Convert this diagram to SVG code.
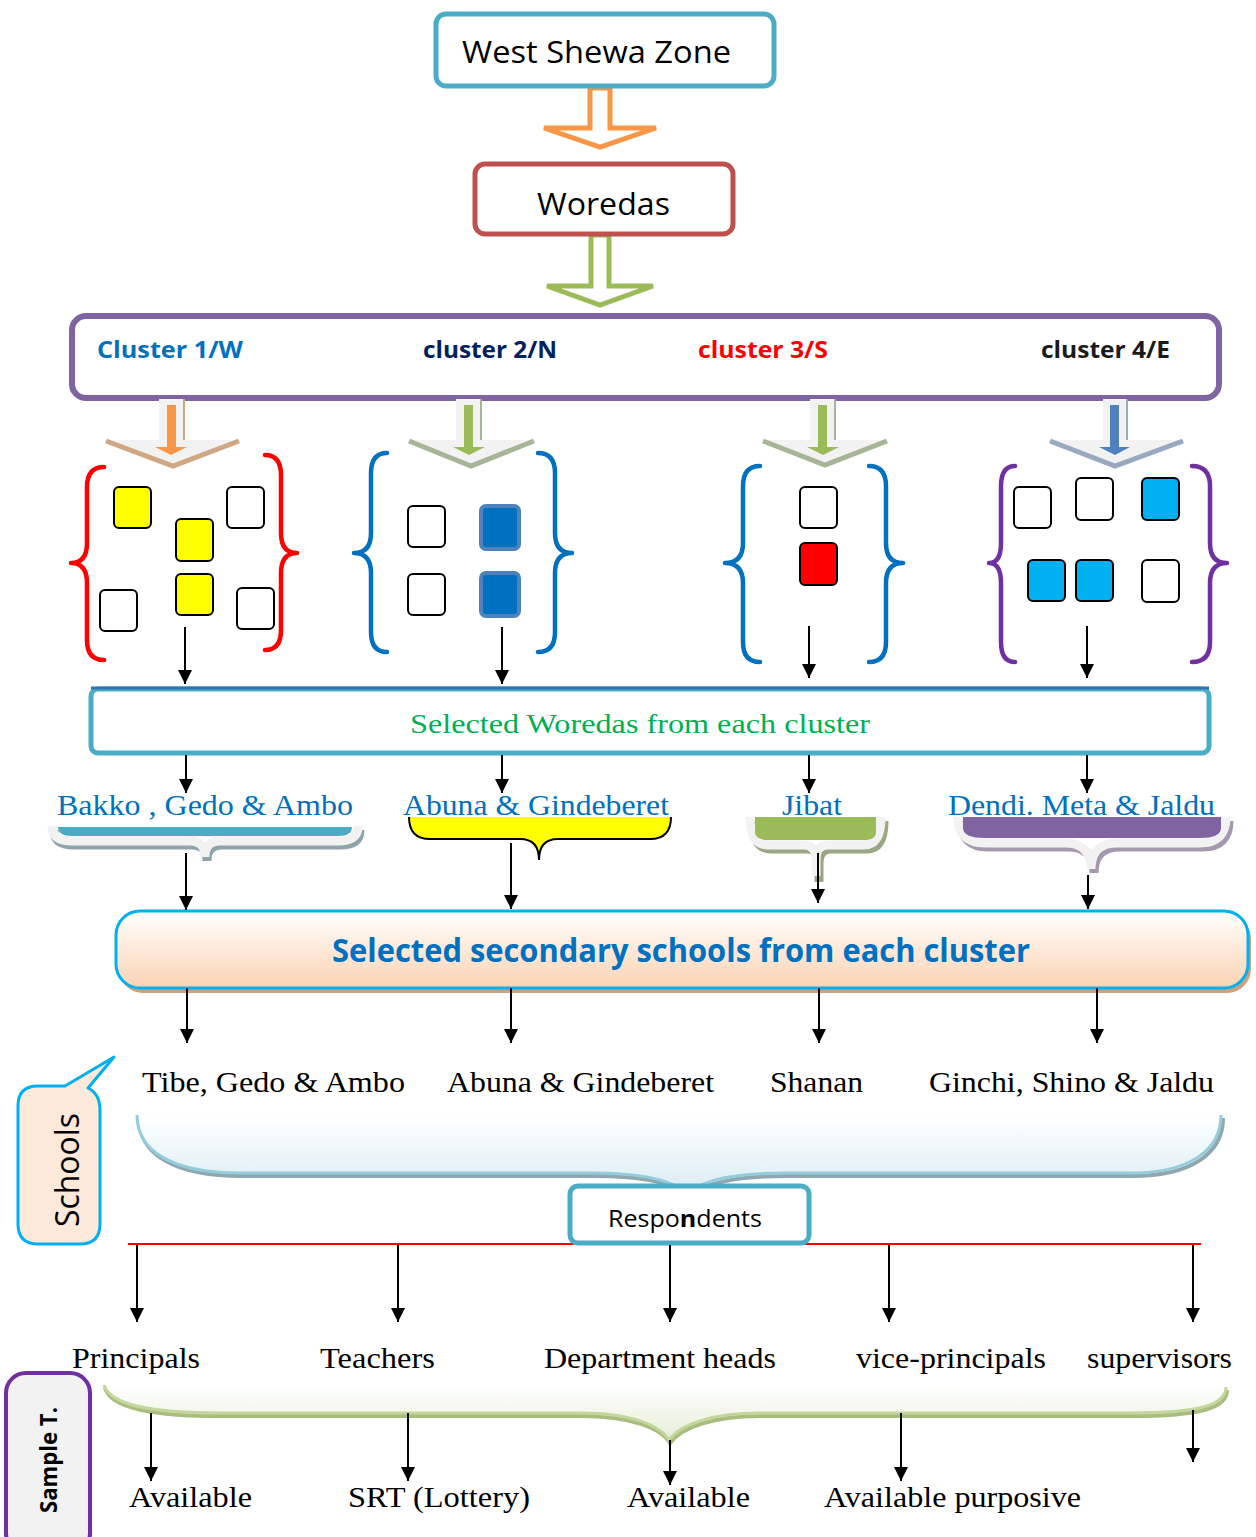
<svg xmlns="http://www.w3.org/2000/svg" width="1256" height="1537" viewBox="0 0 1256 1537">
<style>
.sans{font-family:"Open Sans","Liberation Sans",sans-serif}
.serif{font-family:"Liberation Serif","Times New Roman",serif}
.conn{stroke:#000;stroke-width:2;fill:none;marker-end:url(#ah)}
.sq{fill:#fff;stroke:#000;stroke-width:2}
.brace{fill:none;stroke-width:4.5;stroke-linecap:round;stroke-linejoin:round}
</style>
<defs>
<marker id="ah" markerUnits="userSpaceOnUse" markerWidth="14" markerHeight="16" refX="14" refY="7" orient="auto" viewBox="0 0 14 14">
<path d="M0,0 L14,7 L0,14 Z" fill="#000"/>
</marker>
<linearGradient id="peach" x1="0" y1="0" x2="0" y2="1">
<stop offset="0" stop-color="#ffffff"/><stop offset="1" stop-color="#FAD3B2"/>
</linearGradient>
<linearGradient id="lblue" x1="0" y1="0" x2="0" y2="1">
<stop offset="0" stop-color="#ffffff"/><stop offset="1" stop-color="#D9ECF2"/>
</linearGradient>
<linearGradient id="lgreen" x1="0" y1="0" x2="0" y2="1">
<stop offset="0" stop-color="#ffffff"/><stop offset="1" stop-color="#E6EED6"/>
</linearGradient>
</defs>
<rect width="1256" height="1537" fill="#fff"/>

<!-- top hollow arrows -->
<g id="arrow-zone-woredas">
<path d="M590,88 L610,88 L610,128 L656,128 L600,147 L544,128 L590,128 Z" fill="#fff" stroke="#F79646" stroke-width="5" stroke-linejoin="miter"/>
</g>
<g id="arrow-woredas-clusters">
<path d="M591,235 L609,235 L609,286 L653,286 L600,305 L547,286 L591,286 Z" fill="#fff" stroke="#9BBB59" stroke-width="5"/>
</g>

<g id="zone">
<rect x="436" y="14" width="338" height="72" rx="10" fill="#fff" stroke="#4BACC6" stroke-width="5"/>
<text class="sans" x="462" y="63" font-size="31" textLength="269" lengthAdjust="spacingAndGlyphs">West Shewa Zone</text>
</g>

<g id="woredas">
<rect x="475" y="164" width="258" height="70" rx="10" fill="#fff" stroke="#C0504D" stroke-width="5"/>
<text class="sans" x="537" y="215" font-size="31" textLength="133" lengthAdjust="spacingAndGlyphs">Woredas</text>
</g>

<g id="clusters">
<rect x="72" y="316" width="1147" height="82" rx="14" fill="#fff" stroke="#8064A2" stroke-width="6"/>
<text class="sans" x="97" y="358" font-size="24" font-weight="bold" fill="#0070C0" textLength="146" lengthAdjust="spacingAndGlyphs">Cluster 1/W</text>
<text class="sans" x="423" y="358" font-size="24" font-weight="bold" fill="#002060" textLength="134" lengthAdjust="spacingAndGlyphs">cluster 2/N</text>
<text class="sans" x="698" y="358" font-size="24" font-weight="bold" fill="#FF0000" textLength="130" lengthAdjust="spacingAndGlyphs">cluster 3/S</text>
<text class="sans" x="1041" y="358" font-size="24" font-weight="bold" fill="#1a1a1a" textLength="129" lengthAdjust="spacingAndGlyphs">cluster 4/E</text>
</g>

<!-- cluster block arrows -->
<g id="carrow1">
<path d="M159,399 L184,399 L184,440 L239,440 L173,466 L106,440 L159,440 Z" fill="#F2F2F2"/>
<path d="M106,441 L173,466 L239,441" fill="none" stroke="#CFA783" stroke-width="5"/>
<line x1="184" y1="399" x2="184" y2="440" stroke="#CFA783" stroke-width="2"/>
<path d="M167,405 L176,405 L176,447 L187,447 L171,455 L155,447 L167,447 Z" fill="#F79646"/>
</g>
<g id="carrow2">
<path d="M456,399 L481,399 L481,440 L534,440 L471,466 L409,440 L456,440 Z" fill="#F2F2F2"/>
<path d="M409,441 L471,466 L534,441" fill="none" stroke="#A6B596" stroke-width="5"/>
<line x1="481" y1="399" x2="481" y2="440" stroke="#A6B596" stroke-width="2"/>
<path d="M464,405 L473,405 L473,447 L485,447 L469,455 L453,447 L464,447 Z" fill="#9BBB59"/>
</g>
<g id="carrow3">
<path d="M810,399 L835,399 L835,440 L887,440 L825,465 L763,440 L810,440 Z" fill="#F2F2F2"/>
<path d="M763,441 L825,465 L887,441" fill="none" stroke="#A6B596" stroke-width="5"/>
<line x1="835" y1="399" x2="835" y2="440" stroke="#A6B596" stroke-width="2"/>
<path d="M818,405 L827,405 L827,447 L839,447 L823,455 L807,447 L818,447 Z" fill="#9BBB59"/>
</g>
<g id="carrow4">
<path d="M1103,399 L1127,399 L1127,440 L1183,440 L1115,466 L1050,440 L1103,440 Z" fill="#F2F2F2"/>
<path d="M1050,441 L1115,466 L1183,441" fill="none" stroke="#98A9BF" stroke-width="5"/>
<line x1="1127" y1="399" x2="1127" y2="440" stroke="#98A9BF" stroke-width="2"/>
<path d="M1110,405 L1119,405 L1119,447 L1130,447 L1115,455 L1099,447 L1110,447 Z" fill="#4F81BD"/>
</g>

<!-- cluster 1 group -->
<g id="group1">
<path class="brace" stroke="#FF0000" d="M104,467 Q87,467 87,487 L87,543 Q87,563 71,563 Q87,563 87,583 L87,640 Q87,660 104,660"/>
<path class="brace" stroke="#FF0000" d="M265,455 Q281,455 281,475 L281,533 Q281,553 297,553 Q281,553 281,573 L281,630 Q281,650 265,650"/>
<rect x="114" y="487" width="37" height="41" rx="5" fill="#FFFF00" stroke="#000" stroke-width="2"/>
<rect x="176" y="519" width="37" height="42" rx="5" fill="#FFFF00" stroke="#000" stroke-width="2"/>
<rect x="176" y="574" width="37" height="41" rx="5" fill="#FFFF00" stroke="#000" stroke-width="2"/>
<rect class="sq" x="227" y="487" width="37" height="41" rx="5"/>
<rect class="sq" x="100" y="590" width="37" height="41" rx="5"/>
<rect class="sq" x="237" y="588" width="37" height="41" rx="5"/>
</g>
<g id="group2">
<path class="brace" stroke="#0070C0" d="M387,453 Q371,453 371,473 L371,533 Q371,553 354,553 Q371,553 371,573 L371,632 Q371,652 387,652"/>
<path class="brace" stroke="#0070C0" d="M538,453 Q555,453 555,473 L555,533 Q555,553 572,553 Q555,553 555,573 L555,632 Q555,652 538,652"/>
<rect class="sq" x="408" y="506" width="37" height="41" rx="5"/>
<rect class="sq" x="408" y="574" width="37" height="41" rx="5"/>
<rect x="481" y="506" width="38" height="43" rx="5" fill="#0070C0" stroke="#4F81BD" stroke-width="4"/>
<rect x="481" y="573" width="38" height="43" rx="5" fill="#0070C0" stroke="#4F81BD" stroke-width="4"/>
</g>
<g id="group3">
<path class="brace" stroke="#0070C0" d="M760,466 Q743,466 743,486 L743,543 Q743,563 725,563 Q743,563 743,583 L743,642 Q743,662 760,662"/>
<path class="brace" stroke="#0070C0" d="M869,466 Q886,466 886,486 L886,543 Q886,563 903,563 Q886,563 886,583 L886,642 Q886,662 869,662"/>
<rect class="sq" x="800" y="487" width="37" height="41" rx="5"/>
<rect x="800" y="543" width="37" height="42" rx="5" fill="#FF0000" stroke="#000" stroke-width="2"/>
</g>
<g id="group4">
<path class="brace" stroke="#7030A0" d="M1015,466 Q1001,466 1001,486 L1001,543 Q1001,563 989,563 Q1001,563 1001,583 L1001,642 Q1001,662 1015,662"/>
<path class="brace" stroke="#7030A0" d="M1192,466 Q1210,466 1210,486 L1210,543 Q1210,563 1227,563 Q1210,563 1210,583 L1210,642 Q1210,662 1192,662"/>
<rect class="sq" x="1014" y="487" width="37" height="41" rx="5"/>
<rect class="sq" x="1076" y="478" width="37" height="42" rx="5"/>
<rect x="1142" y="478" width="37" height="42" rx="5" fill="#00B0F0" stroke="#000" stroke-width="2"/>
<rect x="1028" y="560" width="37" height="41" rx="5" fill="#00B0F0" stroke="#000" stroke-width="2"/>
<rect x="1076" y="560" width="37" height="41" rx="5" fill="#00B0F0" stroke="#000" stroke-width="2"/>
<rect class="sq" x="1142" y="560" width="37" height="42" rx="5"/>
</g>

<g id="selected-woredas">
<rect x="91" y="689" width="1118" height="64" rx="7" fill="#fff" stroke="#4BACC6" stroke-width="5"/>
<line x1="91" y1="688" x2="1209" y2="688" stroke="#2E75B6" stroke-width="3"/>
<text class="serif" x="410" y="733" font-size="28" fill="#00B050" textLength="460" lengthAdjust="spacingAndGlyphs">Selected Woredas from each cluster</text>
</g>

<!-- woreda names with braces -->
<g id="w1">
<path d="M52,826 Q52,841 72,841 L190,841 Q205,841 205,857 Q205,841 220,841 L338,841 Q358,841 358,826" fill="none" stroke="#8EA3AB" stroke-width="9" transform="translate(2,4)"/>
<path d="M52,826 Q52,841 72,841 L190,841 Q205,841 205,857 Q205,841 220,841 L338,841 Q358,841 358,826" fill="none" stroke="#F2F2F2" stroke-width="9"/>
<path d="M58,827 L352,827 Q352,836 338,836 L72,836 Q58,836 58,827 Z" fill="#4BACC6"/>
<text class="serif" x="57" y="815" font-size="30" fill="#0070C0" textLength="296" lengthAdjust="spacingAndGlyphs">Bakko , Gedo &amp; Ambo</text>
</g>
<g id="w2">
<path d="M409,817 Q409,839 430,839 L520,839 Q539,839 539,860 Q539,839 558,839 L650,839 Q671,839 671,817 Z" fill="#FFFF00"/>
<path d="M409,817 Q409,839 430,839 L520,839 Q539,839 539,860 Q539,839 558,839 L650,839 Q671,839 671,817" fill="none" stroke="#000" stroke-width="2"/>
<text class="serif" x="403" y="815" font-size="30" fill="#0070C0" textLength="266" lengthAdjust="spacingAndGlyphs">Abuna &amp; Gindeberet</text>
</g>
<g id="w3">
<path d="M750,817 Q750,845 768,845 L804,845 Q816,845 816,860 L816,878 M816,860 Q816,845 828,845 L864,845 Q881,845 881,817" fill="none" stroke="#9AA684" stroke-width="9" transform="translate(3,4)"/>
<path d="M750,817 Q750,845 768,845 L804,845 Q816,845 816,860 L816,876 M816,860 Q816,845 828,845 L864,845 Q881,845 881,817" fill="none" stroke="#F2F2F2" stroke-width="9"/>
<path d="M755,817 L876,817 L876,832 Q876,840 864,840 L768,840 Q755,840 755,832 Z" fill="#9BBB59"/>
<text class="serif" x="782" y="815" font-size="30" fill="#0070C0" textLength="60" lengthAdjust="spacingAndGlyphs">Jibat</text>
</g>
<g id="w4">
<path d="M958,817 Q958,843 985,843 L1065,843 Q1091,843 1091,869 Q1091,843 1117,843 L1200,843 Q1226,843 1226,817" fill="none" stroke="#A499AE" stroke-width="9" transform="translate(3,4)"/>
<path d="M958,817 Q958,843 985,843 L1065,843 Q1091,843 1091,869 Q1091,843 1117,843 L1200,843 Q1226,843 1226,817" fill="none" stroke="#F2F2F2" stroke-width="9"/>
<path d="M963,817 L1221,817 L1221,828 Q1221,838 1200,838 L985,838 Q963,838 963,828 Z" fill="#8064A2"/>
<text class="serif" x="948" y="815" font-size="30" fill="#0070C0" textLength="267" lengthAdjust="spacingAndGlyphs">Dendi. Meta &amp; Jaldu</text>
</g>

<g id="selected-schools">
<rect x="119" y="915" width="1132" height="78" rx="24" fill="#C9A27E"/>
<rect x="116" y="911" width="1132" height="77" rx="24" fill="url(#peach)" stroke="#00B0F0" stroke-width="3"/>
<text class="sans" x="332" y="962" font-size="32" font-weight="bold" fill="#0070C0" textLength="698" lengthAdjust="spacingAndGlyphs">Selected secondary schools from each cluster</text>
</g>

<g id="school-names">
<text class="serif" x="142" y="1092" font-size="30" textLength="263" lengthAdjust="spacingAndGlyphs">Tibe, Gedo &amp; Ambo</text>
<text class="serif" x="447" y="1092" font-size="30" textLength="267" lengthAdjust="spacingAndGlyphs">Abuna &amp; Gindeberet</text>
<text class="serif" x="770" y="1092" font-size="30" textLength="93" lengthAdjust="spacingAndGlyphs">Shanan</text>
<text class="serif" x="929" y="1092" font-size="30" textLength="285" lengthAdjust="spacingAndGlyphs">Ginchi, Shino &amp; Jaldu</text>
</g>

<g id="schools-brace">
<path d="M137,1115 C137,1150 170,1173 240,1173 L590,1173 C640,1173 675,1180 688,1195 C700,1180 735,1173 785,1173 L1130,1173 C1190,1173 1221,1150 1221,1115" fill="none" stroke="#8FA7B0" stroke-width="4" transform="translate(2,3)"/>
<path d="M137,1115 C137,1150 170,1173 240,1173 L590,1173 C640,1173 675,1180 688,1195 C700,1180 735,1173 785,1173 L1130,1173 C1190,1173 1221,1150 1221,1115 Z" fill="url(#lblue)"/>
<path d="M137,1115 C137,1150 170,1173 240,1173 L590,1173 C640,1173 675,1180 688,1195 C700,1180 735,1173 785,1173 L1130,1173 C1190,1173 1221,1150 1221,1115" fill="none" stroke="#93CDDD" stroke-width="3"/>
</g>

<g id="schools-label">
<path d="M38,1086 L65,1086 L114,1057 L88,1088 Q100,1094 100,1110 L100,1224 Q100,1244 80,1244 L38,1244 Q18,1244 18,1224 L18,1106 Q18,1086 38,1086 Z" fill="#FDE9D9" stroke="#00B0F0" stroke-width="3" stroke-linejoin="round"/>
<text class="sans" transform="translate(79,1170) rotate(-90)" text-anchor="middle" font-size="32" textLength="114" lengthAdjust="spacingAndGlyphs">Schools</text>
</g>

<g id="respondents">
<line x1="128" y1="1244" x2="1201" y2="1244" stroke="#FF0000" stroke-width="2"/>
<rect x="570" y="1186" width="239" height="57" rx="8" fill="#fff" stroke="#4BACC6" stroke-width="5"/>
<text class="sans" x="608" y="1227" font-size="24" textLength="154" lengthAdjust="spacingAndGlyphs">Respo<tspan font-weight="bold">n</tspan>dents</text>
</g>

<g id="respondent-types">
<text class="serif" x="72" y="1368" font-size="30" textLength="128" lengthAdjust="spacingAndGlyphs">Principals</text>
<text class="serif" x="320" y="1368" font-size="30" textLength="115" lengthAdjust="spacingAndGlyphs">Teachers</text>
<text class="serif" x="544" y="1368" font-size="30" textLength="232" lengthAdjust="spacingAndGlyphs">Department heads</text>
<text class="serif" x="856" y="1368" font-size="30" textLength="190" lengthAdjust="spacingAndGlyphs">vice-principals</text>
<text class="serif" x="1087" y="1368" font-size="30" textLength="145" lengthAdjust="spacingAndGlyphs">supervisors</text>
</g>

<g id="sample-brace">
<path d="M104,1385 C110,1405 150,1413 220,1413 L580,1413 C630,1413 660,1425 669,1440 C680,1425 710,1413 760,1413 L1130,1413 C1200,1413 1226,1405 1226,1387" fill="none" stroke="#A8BD7E" stroke-width="4" transform="translate(1,3)"/>
<path d="M104,1385 C110,1405 150,1413 220,1413 L580,1413 C630,1413 660,1425 669,1440 C680,1425 710,1413 760,1413 L1130,1413 C1200,1413 1226,1405 1226,1387 Z" fill="url(#lgreen)"/>
<path d="M104,1385 C110,1405 150,1413 220,1413 L580,1413 C630,1413 660,1425 669,1440 C680,1425 710,1413 760,1413 L1130,1413 C1200,1413 1226,1405 1226,1387" fill="none" stroke="#C3D69B" stroke-width="3"/>
</g>

<g id="sample-label">
<rect x="6" y="1373" width="84" height="180" rx="20" fill="#F2F2F2" stroke="#7030A0" stroke-width="4"/>
<text class="sans" transform="translate(57,1460) rotate(-90)" text-anchor="middle" font-size="24" font-weight="bold" textLength="106" lengthAdjust="spacingAndGlyphs">Sample T.</text>
</g>

<g id="sample-types">
<text class="serif" x="129" y="1507" font-size="30" textLength="123" lengthAdjust="spacingAndGlyphs">Available</text>
<text class="serif" x="348" y="1507" font-size="30" textLength="182" lengthAdjust="spacingAndGlyphs">SRT (Lottery)</text>
<text class="serif" x="627" y="1507" font-size="30" textLength="123" lengthAdjust="spacingAndGlyphs">Available</text>
<text class="serif" x="824" y="1507" font-size="30" textLength="257" lengthAdjust="spacingAndGlyphs">Available purposive</text>
</g>

<g id="connectors">
<line class="conn" x1="185" y1="627" x2="185" y2="684"/>
<line class="conn" x1="502" y1="627" x2="502" y2="684"/>
<line class="conn" x1="809" y1="626" x2="809" y2="678"/>
<line class="conn" x1="1087" y1="626" x2="1087" y2="678"/>
<line class="conn" x1="186" y1="755" x2="186" y2="793"/>
<line class="conn" x1="502" y1="755" x2="502" y2="793"/>
<line class="conn" x1="809" y1="755" x2="809" y2="793"/>
<line class="conn" x1="1087" y1="755" x2="1087" y2="793"/>
<line class="conn" x1="186" y1="853" x2="186" y2="910"/>
<line class="conn" x1="511" y1="843" x2="511" y2="909"/>
<line class="conn" x1="818" y1="853" x2="818" y2="903"/>
<line class="conn" x1="1088" y1="875" x2="1088" y2="909"/>
<line class="conn" x1="187" y1="988" x2="187" y2="1043"/>
<line class="conn" x1="511" y1="988" x2="511" y2="1043"/>
<line class="conn" x1="819" y1="988" x2="819" y2="1043"/>
<line class="conn" x1="1097" y1="988" x2="1097" y2="1043"/>
<line class="conn" x1="137" y1="1245" x2="137" y2="1322"/>
<line class="conn" x1="398" y1="1245" x2="398" y2="1322"/>
<line class="conn" x1="670" y1="1245" x2="670" y2="1322"/>
<line class="conn" x1="889" y1="1245" x2="889" y2="1322"/>
<line class="conn" x1="1193" y1="1245" x2="1193" y2="1322"/>
<line class="conn" x1="151" y1="1413" x2="151" y2="1481"/>
<line class="conn" x1="408" y1="1413" x2="408" y2="1481"/>
<line class="conn" x1="670" y1="1440" x2="670" y2="1485"/>
<line class="conn" x1="901" y1="1413" x2="901" y2="1481"/>
<line class="conn" x1="1193" y1="1410" x2="1193" y2="1462"/>
</g>
</svg>
